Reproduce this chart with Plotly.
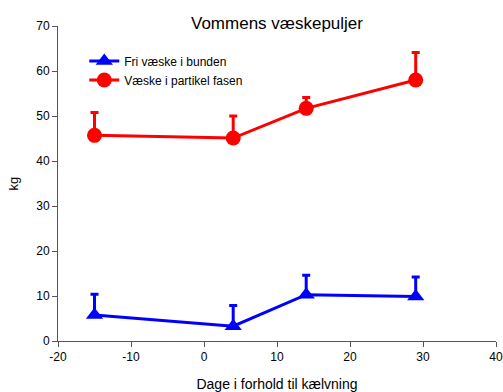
import plotly.graph_objects as go

# Days relative to calving
days = [-15, 4, 14, 29]

# Free fluid at the bottom (kg) and upper error
fri_vaeske = [5.8, 3.3, 10.3, 9.9]
fri_err = [4.6, 4.6, 4.3, 4.3]

# Fluid in the particle phase (kg) and upper error
partikel_vaeske = [45.7, 45.1, 51.7, 58.0]
partikel_err = [5.1, 4.9, 2.4, 6.1]

x_ticks = [-20, -10, 0, 10, 20, 30, 40]
x_ticklabels = ["-20", "-10", "0", "10", "20", "30", "40"]
y_ticks = [0, 10, 20, 30, 40, 50, 60, 70]

BLUE = "#0000FF"
RED = "#FF0000"

fig = go.Figure()

fig.add_trace(go.Scatter(
    x=days, y=fri_vaeske, name="Fri væske i bunden",
    mode="lines+markers",
    line=dict(color=BLUE, width=3),
    marker=dict(symbol="triangle-up", size=15, color=BLUE),
    error_y=dict(type="data", symmetric=False, array=fri_err,
                 arrayminus=[0] * len(fri_err),
                 color=BLUE, thickness=3, width=4),
))

fig.add_trace(go.Scatter(
    x=days, y=partikel_vaeske, name="Væske i partikel fasen",
    mode="lines+markers",
    line=dict(color=RED, width=3),
    marker=dict(symbol="circle", size=15, color=RED),
    error_y=dict(type="data", symmetric=False, array=partikel_err,
                 arrayminus=[0] * len(partikel_err),
                 color=RED, thickness=3, width=4),
))

axis_common = dict(
    showgrid=False, zeroline=False, automargin=False,
    showline=True, linecolor="#555555", linewidth=1,
    ticks="outside", ticklen=5, tickcolor="#555555",
    tickfont=dict(family="Arial", size=12, color="black"),
)

fig.update_layout(
    width=503, height=392,
    margin=dict(l=58, r=7, t=26, b=51),
    paper_bgcolor="white", plot_bgcolor="white",
    font=dict(family="Arial", color="black"),
    title=dict(text="Vommens væskepuljer", x=277 / 503, xanchor="center",
               y=0.94, yanchor="middle",
               font=dict(family="Arial", size=17, color="black")),
    xaxis=dict(range=[-20, 40], tickvals=x_ticks, ticktext=x_ticklabels,
               title=dict(text="Dage i forhold til kælvning", standoff=16,
                          font=dict(family="Arial", size=14)),
               **axis_common),
    yaxis=dict(range=[0, 70], tickvals=y_ticks,
               title=dict(text="kg", standoff=14,
                          font=dict(family="Arial", size=13)),
               **axis_common),
    legend=dict(x=0.06, y=0.935, xanchor="left", yanchor="top",
                bgcolor="rgba(0,0,0,0)",
                font=dict(family="Arial", size=12, color="black"),
                tracegroupgap=0),
    showlegend=True,
)

fig.write_html("out.html")
